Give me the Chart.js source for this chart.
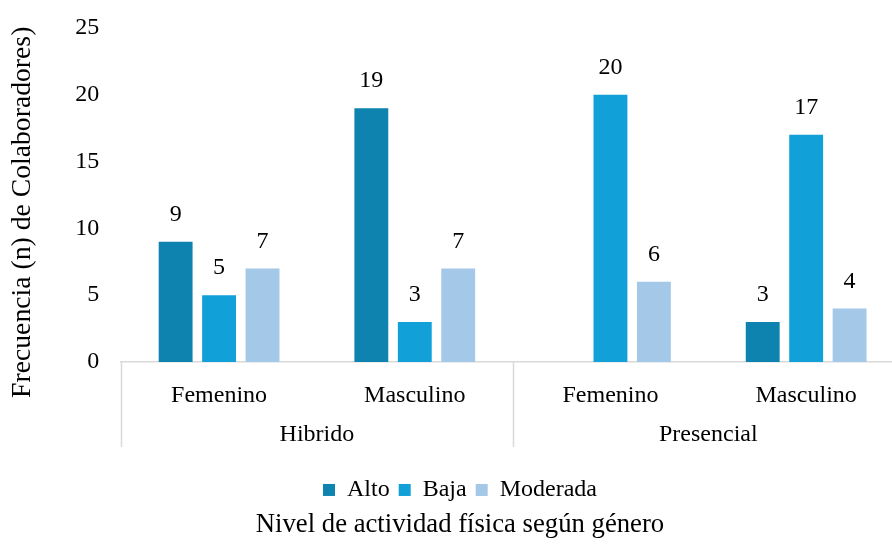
<!DOCTYPE html>
<html>
<head>
<meta charset="utf-8">
<script src="https://cdn.jsdelivr.net/npm/chart.js@4/dist/chart.umd.min.js"></script>
<style>
  html, body { margin: 0; padding: 0; background: #fff; overflow: hidden; }
  #wrap { width: 920px; height: 546px; }
</style>
</head>
<body>
<div id="wrap"><canvas id="c" width="920" height="546"></canvas></div>
<script>
const categories = ['Femenino', 'Masculino', 'Femenino', 'Masculino'];
const groups = ['Hibrido', 'Presencial'];
const seriesNames = ['Alto', 'Baja', 'Moderada'];
const alto = [9, 19, 0, 3];
const baja = [5, 3, 20, 17];
const moderada = [7, 7, 6, 4];
const yTicks = [0, 5, 10, 15, 20, 25];
const yTitle = 'Frecuencia (n) de Colaboradores)';
const xTitle = 'Nivel de actividad física según género';
const colors = ['#0E83AF', '#11A0D7', '#A3C8E8'];

const FONT = "'Liberation Serif', 'Times New Roman', serif";
const FS = 24;

const groupPlugin = {
  id: 'groupAxis',
  afterDraw(chart) {
    const ctx = chart.ctx;
    const x = chart.scales.x;
    const area = chart.chartArea;
    const top = area.bottom;
    const bottom = area.bottom + 85;
    const p = [0, 1, 2, 3].map(i => x.getPixelForValue(i));
    const seps = [area.left, (p[1] + p[2]) / 2, area.right];
    ctx.save();
    ctx.strokeStyle = '#D9D9D9';
    ctx.lineWidth = 1.5;
    seps.forEach(sx => {
      ctx.beginPath();
      ctx.moveTo(Math.round(sx) + 0.5, top);
      ctx.lineTo(Math.round(sx) + 0.5, bottom);
      ctx.stroke();
    });
    ctx.fillStyle = '#000';
    ctx.font = FS + 'px ' + FONT;
    ctx.textAlign = 'center';
    ctx.textBaseline = 'middle';
    ctx.fillText(groups[0], (p[0] + p[1]) / 2, area.bottom + 73);
    ctx.fillText(groups[1], (p[2] + p[3]) / 2, area.bottom + 73);
    ctx.restore();
  }
};

const labelPlugin = {
  id: 'barLabels',
  afterDatasetsDraw(chart) {
    const ctx = chart.ctx;
    ctx.save();
    ctx.fillStyle = '#000';
    ctx.font = FS + 'px ' + FONT;
    ctx.textAlign = 'center';
    ctx.textBaseline = 'middle';
    chart.data.datasets.forEach((ds, di) => {
      const meta = chart.getDatasetMeta(di);
      meta.data.forEach((bar, i) => {
        const v = ds.data[i];
        if (!v) return;
        ctx.fillText(String(v), bar.x, bar.y - 27);
      });
    });
    ctx.restore();
  }
};

new Chart(document.getElementById('c'), {
  type: 'bar',
  data: {
    labels: categories,
    datasets: [
      { label: seriesNames[0], data: alto, backgroundColor: colors[0] },
      { label: seriesNames[1], data: baja, backgroundColor: colors[1] },
      { label: seriesNames[2], data: moderada, backgroundColor: colors[2] }
    ]
  },
  options: {
    responsive: false,
    animation: false,
    devicePixelRatio: 1,
    datasets: { bar: { categoryPercentage: 0.666, barPercentage: 0.78 } },
    layout: { padding: { top: 28, right: 16, left: 16, bottom: 1 } },
    scales: {
      x: {
        grid: { display: false, drawTicks: false },
        border: { display: true, color: '#D9D9D9', width: 1.5 },
        ticks: { color: '#000', font: { family: FONT, size: FS }, padding: 19, maxRotation: 0 },
        afterFit(scale) { scale.height = 107; }
      },
      y: {
        min: 0, max: 25,
        afterBuildTicks(scale) { scale.ticks = yTicks.map(v => ({ value: v })); },
        afterFit(scale) { scale.paddingTop = 0; scale.paddingBottom = 0; },
        grid: { display: false, drawTicks: false },
        border: { display: false },
        ticks: { color: '#000', font: { family: FONT, size: FS }, padding: 22 },
        title: { display: true, text: yTitle + '     ', color: '#000', font: { family: FONT, size: 27.7 }, padding: { top: -10, bottom: 14 } }
      }
    },
    plugins: {
      legend: {
        position: 'bottom',
        labels: { boxWidth: 12, boxHeight: 12, padding: 9, color: '#000', font: { family: FONT, size: FS } }
      },
      title: {
        display: true, position: 'bottom', text: xTitle, color: '#000',
        font: { family: FONT, size: 26.7, weight: 'normal' }, padding: { top: -3, bottom: 4 }
      },
      tooltip: { enabled: false }
    }
  },
  plugins: [groupPlugin, labelPlugin]
});
</script>
</body>
</html>
